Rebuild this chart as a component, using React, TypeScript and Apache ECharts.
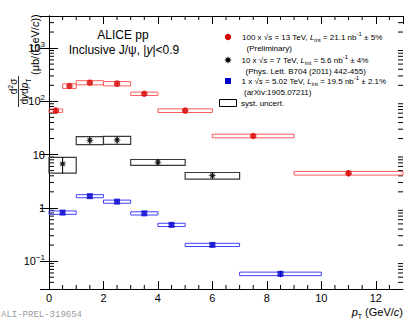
import React, { useEffect, useRef } from 'react';
import * as echarts from 'echarts';

const FONT = '"Liberation Sans", Arial, Helvetica, sans-serif';

// 13 TeV (x100)
const redX = [0.25, 0.75, 1.5, 2.5, 3.5, 5, 7.5, 11];
const redXLo = [0, 0.5, 1, 2, 3, 4, 6, 9];
const redXHi = [0.5, 1, 2, 3, 4, 6, 9, 13];
const redY = [67, 194, 224, 215, 139, 67, 22.4, 4.48];
const redStat = [9, 5, 5, 5, 4, 2, 0.8, 0.6];
const redSyst = [5, 19, 20, 20, 10, 5.2, 1.7, 0.35];

// 7 TeV (x10)
const blackX = [0.5, 1.5, 2.5, 4, 6];
const blackXLo = [0, 1, 2, 3, 5];
const blackXHi = [1, 2, 3, 5, 7];
const blackY = [6.7, 18.6, 18.8, 7.2, 4.04];
const blackStat = [2.3, 2.8, 2.8, 1.0, 0.6];
const blackSyst = [2.2, 3.2, 3.2, 0.9, 0.57];

// 5.02 TeV (x1)
const blueX = [0.5, 1.5, 2.5, 3.5, 4.5, 6, 8.5];
const blueXLo = [0, 1, 2, 3, 4, 5, 7];
const blueXHi = [1, 2, 3, 4, 5, 7, 10];
const blueY = [0.816, 1.66, 1.31, 0.79, 0.48, 0.202, 0.0578];
const blueStat = [0.02, 0.04, 0.03, 0.02, 0.015, 0.008, 0.008];
const blueSyst = [0.06, 0.11, 0.09, 0.055, 0.034, 0.014, 0.0044];

const X_MIN = 0;
const X_MAX = 13;
const Y_MIN = 0.03;
const Y_MAX = 4000;

const xMinorTicks = [0.5, 1, 1.5, 2.5, 3, 3.5, 4.5, 5, 5.5, 6.5, 7, 7.5, 8.5, 9, 9.5, 10.5, 11, 11.5, 12.5];
const yMinorTicks: number[] = [];
for (let k = -2; k <= 3; k++) {
  for (let m = 2; m <= 9; m++) {
    const v = m * Math.pow(10, k);
    if (v > Y_MIN && v < Y_MAX) yMinorTicks.push(v);
  }
}

const RED = '#d60000';
const RED_BOX = '#ff5a5a';
const BLUE = '#0000cc';
const BLUE_BOX = '#4040ff';
const BLACK = '#000000';
const BLACK_BOX = '#3a3a3a';

const STAR_PTS: number[][] = [];
for (let k = 0; k < 16; k++) {
  const a = (k * Math.PI) / 8;
  const r = k % 2 === 0 ? 5 : 2.3;
  STAR_PTS.push([r * Math.cos(a), r * Math.sin(a)]);
}
const STAR = 'path://' + STAR_PTS.map((p, k) => (k === 0 ? 'M' : 'L') + p[0].toFixed(2) + ',' + p[1].toFixed(2)).join(' ') + ' Z';

function boxData(lo: number[], hi: number[], y: number[], e: number[]) {
  return y.map((v, i) => [lo[i], hi[i], v - e[i], v + e[i]]);
}
function errData(x: number[], y: number[], e: number[]) {
  return y.map((v, i) => [x[i], v - e[i], v + e[i]]);
}

function boxSeries(data: number[][], color: string, width = 1) {
  return {
    type: 'custom',
    data,
    encode: { x: [0, 1], y: [2, 3] },
    z: 2,
    renderItem: (_p: any, api: any) => {
      const p1 = api.coord([api.value(0), api.value(3)]);
      const p2 = api.coord([api.value(1), api.value(2)]);
      return {
        type: 'rect',
        shape: { x: p1[0], y: p1[1], width: p2[0] - p1[0], height: p2[1] - p1[1] },
        style: { fill: 'rgba(0,0,0,0)', stroke: color, lineWidth: width },
      };
    },
  };
}

function errSeries(data: number[][], color: string) {
  return {
    type: 'custom',
    data,
    encode: { x: 0, y: [1, 2] },
    z: 3,
    renderItem: (_p: any, api: any) => {
      const a = api.coord([api.value(0), api.value(1)]);
      const b = api.coord([api.value(0), api.value(2)]);
      return {
        type: 'line',
        shape: { x1: a[0], y1: a[1], x2: b[0], y2: b[1] },
        style: { stroke: color, lineWidth: 1 },
      };
    },
  };
}

const rich = {
  i: { fontStyle: 'italic', fontFamily: FONT, fontSize: 8, fill: '#000' },
  sub: { fontFamily: FONT, fontSize: 6, verticalAlign: 'bottom', lineHeight: 12 },
  sup: { fontFamily: FONT, fontSize: 6, verticalAlign: 'top', lineHeight: 12 },
};

function legText(x: number, y: number, text: string) {
  return {
    type: 'text',
    x,
    y,
    style: {
      text,
      rich,
      fontFamily: FONT,
      fontSize: 8,
      lineHeight: 12,
      fill: '#000',
      textAlign: 'left',
      align: 'left',
      textVerticalAlign: 'middle',
      verticalAlign: 'middle',
    },
  };
}

function vText(x: number, y: number, text: string, size: number, r: any, align = 'center') {
  return {
    type: 'text',
    x,
    y,
    rotation: Math.PI / 2,
    style: {
      text,
      rich: r,
      fontFamily: FONT,
      fontSize: size,
      lineHeight: size + 4,
      fill: '#000',
      textAlign: align,
      align,
      textVerticalAlign: 'middle',
      verticalAlign: 'middle',
    },
  };
}

export default function App() {
  const ref = useRef<HTMLDivElement>(null);
  useEffect(() => {
    document.body.style.margin = '0';
    const chart = echarts.init(ref.current!, null, { renderer: 'svg' });

    const yLabel = (v: number) => {
      const e = Math.round(Math.log10(v));
      if (e === 0) return '1';
      if (e === 1) return '10';
      return '10{sup|' + (e < 0 ? '\u2212' + -e : e) + '}';
    };

    const xAxisCommon = {
      type: 'value',
      min: X_MIN,
      max: X_MAX,
      interval: 2,
      axisLine: { show: true, onZero: false, lineStyle: { color: '#000', width: 1 } },
      axisTick: { show: true, inside: true, length: 8, lineStyle: { color: '#000' } },
      splitLine: { show: false },
    };
    const yAxisCommon = {
      type: 'log',
      logBase: 10,
      min: Y_MIN,
      max: Y_MAX,
      axisLine: { show: true, lineStyle: { color: '#000', width: 1 } },
      axisTick: { show: true, inside: true, length: 9, lineStyle: { color: '#000' } },
      splitLine: { show: false },
    };

    const option: any = {
      animation: false,
      backgroundColor: '#fff',
      grid: { left: 49, right: 12, top: 16, bottom: 33, containLabel: false },
      xAxis: [
        {
          ...xAxisCommon,
          position: 'bottom',
          axisLabel: {
            show: true,
            showMaxLabel: false,
            fontFamily: FONT,
            fontSize: 11,
            color: '#000',
            margin: 3,
          },
        },
        { ...xAxisCommon, position: 'top', axisLabel: { show: false } },
      ],
      yAxis: [
        {
          ...yAxisCommon,
          position: 'left',
          axisLabel: {
            show: true,
            showMinLabel: false,
            showMaxLabel: false,
            formatter: yLabel,
            fontFamily: FONT,
            fontSize: 11,
            color: '#000',
            margin: 4,
            rich: {
              sup: { fontFamily: FONT, fontSize: 8, color: '#000', verticalAlign: 'top', lineHeight: 16 },
            },
          },
        },
        { ...yAxisCommon, position: 'right', axisLabel: { show: false } },
      ],
      series: [
        {
          type: 'custom',
          silent: true,
          clip: false,
          data: xMinorTicks.map((x) => [x, 1]),
          encode: { x: 0, y: 1 },
          renderItem: (_p: any, api: any) => {
            const b = api.coord([api.value(0), Y_MIN]);
            const t = api.coord([api.value(0), Y_MAX]);
            return {
              type: 'group',
              children: [
                { type: 'line', shape: { x1: b[0], y1: b[1], x2: b[0], y2: b[1] - 4 }, style: { stroke: '#000', lineWidth: 1 } },
                { type: 'line', shape: { x1: t[0], y1: t[1], x2: t[0], y2: t[1] + 4 }, style: { stroke: '#000', lineWidth: 1 } },
              ],
            };
          },
        },
        {
          type: 'custom',
          silent: true,
          clip: false,
          data: yMinorTicks.map((v) => [1, v]),
          encode: { x: 0, y: 1 },
          renderItem: (_p: any, api: any) => {
            const l = api.coord([X_MIN, api.value(1)]);
            const r = api.coord([X_MAX, api.value(1)]);
            return {
              type: 'group',
              children: [
                { type: 'line', shape: { x1: l[0], y1: l[1], x2: l[0] + 5, y2: l[1] }, style: { stroke: '#000', lineWidth: 1 } },
                { type: 'line', shape: { x1: r[0], y1: r[1], x2: r[0] - 5, y2: r[1] }, style: { stroke: '#000', lineWidth: 1 } },
              ],
            };
          },
        },
        boxSeries(boxData(redXLo, redXHi, redY, redSyst), RED_BOX),
        boxSeries(boxData(blackXLo, blackXHi, blackY, blackSyst), BLACK_BOX, 1.2),
        boxSeries(boxData(blueXLo, blueXHi, blueY, blueSyst), BLUE_BOX),
        errSeries(errData(redX, redY, redStat), RED),
        errSeries(errData(blackX, blackY, blackStat), BLACK),
        errSeries(errData(blueX, blueY, blueStat), BLUE),
        {
          type: 'scatter',
          name: '13 TeV',
          data: redX.map((x, i) => [x, redY[i]]),
          symbol: 'circle',
          symbolSize: 6.5,
          itemStyle: { color: RED },
          z: 5,
        },
        {
          type: 'scatter',
          name: '7 TeV',
          data: blackX.map((x, i) => [x, blackY[i]]),
          symbol: STAR,
          symbolSize: 8,
          itemStyle: { color: BLACK },
          z: 5,
        },
        {
          type: 'scatter',
          name: '5.02 TeV',
          data: blueX.map((x, i) => [x, blueY[i]]),
          symbol: 'rect',
          symbolSize: 6,
          itemStyle: { color: BLUE },
          z: 5,
        },
      ],
      graphic: [
        // y-axis title (fraction + units), reading bottom to top
        vText(13.5, 86.5, 'd{sup|2}\u03c3', 10, {
          sup: { fontFamily: FONT, fontSize: 7, verticalAlign: 'top', lineHeight: 14 },
        }),
        { type: 'line', shape: { x1: 18.5, y1: 76, x2: 18.5, y2: 107 }, style: { stroke: '#000', lineWidth: 0.8 } },
        vText(24.5, 91.5, 'd{i|y}d{i|p}{sub|T}', 10, {
          i: { fontFamily: FONT, fontSize: 10, fontStyle: 'italic' },
          sub: { fontFamily: FONT, fontSize: 7, verticalAlign: 'bottom', lineHeight: 14 },
        }),
        vText(34.5, 75, '(\u03bcb/(GeV/{i|c}))', 11, {
          i: { fontFamily: FONT, fontSize: 11, fontStyle: 'italic' },
        }, 'left'),
        // x-axis title
        {
          type: 'text',
          x: 403,
          y: 312,
          style: {
            text: '{i|p}{sub|T} (GeV/{i|c})',
            rich: {
              i: { fontFamily: FONT, fontSize: 11, fontStyle: 'italic' },
              sub: { fontFamily: FONT, fontSize: 7, verticalAlign: 'bottom', lineHeight: 16 },
            },
            fontFamily: FONT,
            fontSize: 11,
            lineHeight: 16,
            fill: '#000',
            textAlign: 'right',
            align: 'right',
            textVerticalAlign: 'middle',
            verticalAlign: 'middle',
          },
        },
        // header text
        {
          type: 'text',
          x: 123,
          y: 35,
          style: {
            text: 'ALICE pp',
            fontFamily: FONT,
            fontSize: 12,
            fill: '#000',
            textAlign: 'center',
            align: 'center',
            textVerticalAlign: 'middle',
            verticalAlign: 'middle',
          },
        },
        {
          type: 'text',
          x: 124,
          y: 50,
          style: {
            text: 'Inclusive J/\u03c8, |{i|y}|<0.9',
            rich: { i: { fontFamily: FONT, fontSize: 12, fontStyle: 'italic' } },
            fontFamily: FONT,
            fontSize: 12,
            fill: '#000',
            textAlign: 'center',
            align: 'center',
            textVerticalAlign: 'middle',
            verticalAlign: 'middle',
          },
        },
        // legend
        { type: 'circle', shape: { cx: 228, cy: 37, r: 3.2 }, style: { fill: RED } },
        legText(242, 37, '100 x \u221a{i|s} = 13 TeV, {i|L}{sub|int} = 21.1 nb{sup|-1} \u00b1 5%'),
        legText(246.5, 48.5, '(Preliminary)'),
        {
          type: 'polygon',
          shape: { points: STAR_PTS.map((p) => [228 + p[0] * 0.8, 60 + p[1] * 0.8]) },
          style: { fill: BLACK },
        },
        legText(241.5, 60, '10 x \u221a{i|s} = 7 TeV, {i|L}{sub|int} = 5.6 nb{sup|-1} \u00b1 4%'),
        legText(245.5, 71, '(Phys. Lett. B704 (2011) 442-455)'),
        { type: 'rect', shape: { x: 225, y: 78, width: 6, height: 6 }, style: { fill: BLUE } },
        legText(241.5, 81, '1 x \u221a{i|s} = 5.02 TeV, {i|L}{sub|int} = 19.5 nb{sup|-1} \u00b1 2.1%'),
        legText(244, 92.5, '(arXiv:1905.07211)'),
        { type: 'rect', shape: { x: 219.5, y: 99.5, width: 17, height: 7 }, style: { fill: 'rgba(0,0,0,0)', stroke: '#000', lineWidth: 1 } },
        legText(241, 103.5, 'syst. uncert.'),
        // preliminary tag
        {
          type: 'text',
          x: 1,
          y: 315,
          style: {
            text: 'ALI-PREL-319654',
            fontFamily: '"Liberation Mono", "DejaVu Sans Mono", monospace',
            fontSize: 9,
            fill: '#9a9a9a',
            textAlign: 'left',
            align: 'left',
            textVerticalAlign: 'middle',
            verticalAlign: 'middle',
          },
        },
      ],
    };

    chart.setOption(option);
    return () => chart.dispose();
  }, []);
  return <div ref={ref} style={{ width: 415, height: 322 }} />;
}
